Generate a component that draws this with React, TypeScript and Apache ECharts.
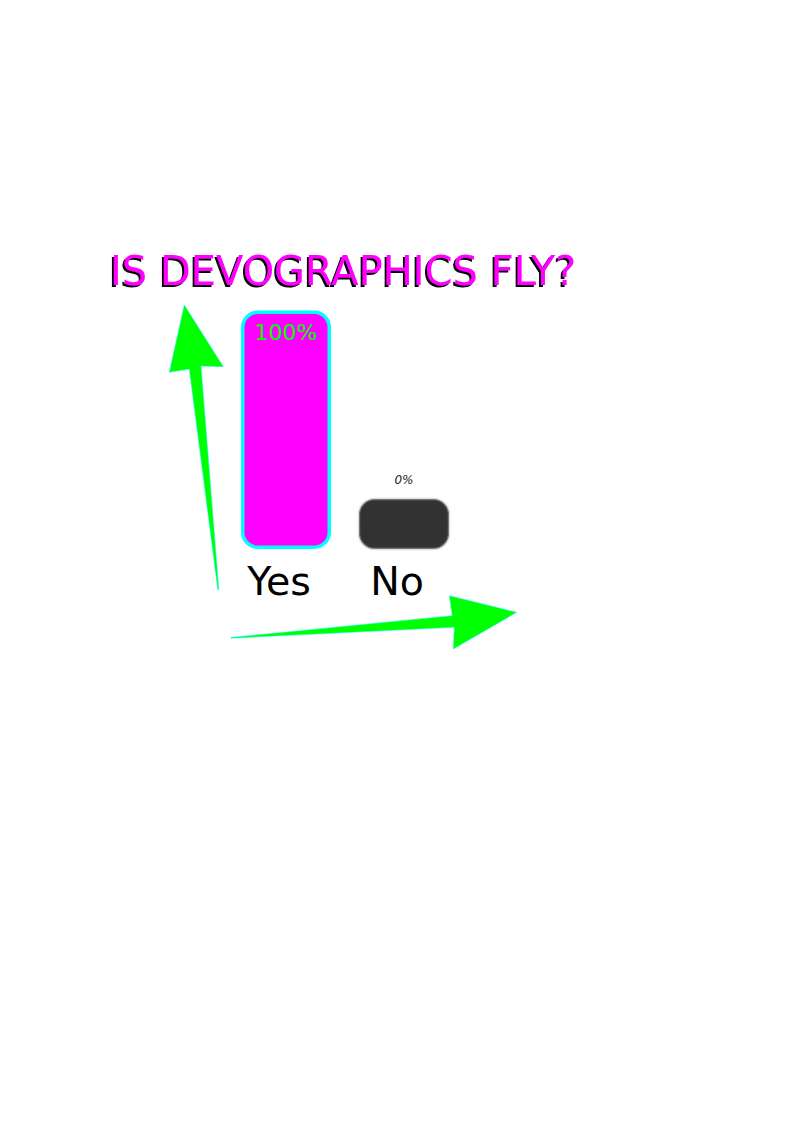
import React, { useEffect, useRef } from "react";
import * as echarts from "echarts";

const categories = ["Yes", "No"];
const values = [100, 0];
const valueLabels = ["100%", "0%"];
const titleText = "IS DEVOGRAPHICS FLY?";

const FONT = "DejaVu Sans";

export default function App() {
  const ref = useRef<HTMLDivElement>(null);

  useEffect(() => {
    if (!ref.current) return;
    const chart = echarts.init(ref.current, null, { renderer: "svg" });

    const barStyles = [
      {
        itemStyle: {
          color: "#ff00ff",
          borderColor: "#00ffff",
          borderWidth: 3.5,
          borderRadius: 15,
        },
        label: {
          show: true,
          position: "insideTop",
          distance: 11,
          color: "#00ff00",
          fontSize: 22,
          fontFamily: FONT,
        },
      },
      {
        itemStyle: {
          color: "#333333",
          borderColor: "#777777",
          borderWidth: 1.2,
          borderRadius: 15,
          shadowBlur: 2,
          shadowColor: "rgba(0,0,0,0.4)",
        },
        label: {
          show: true,
          position: "top",
          distance: 13,
          color: "#222222",
          fontSize: 12,
          fontStyle: "italic",
          fontFamily: FONT,
        },
      },
    ];

    chart.setOption({
      animation: false,
      backgroundColor: "#ffffff",
      title: {
        text: titleText,
        left: 110,
        top: 251,
        padding: 0,
        textStyle: {
          fontFamily: FONT,
          fontSize: 40,
          fontWeight: "normal",
          color: "#ff00ff",
          textShadowColor: "#000000",
          textShadowOffsetX: -2,
          textShadowOffsetY: 2,
          textShadowBlur: 1,
        },
      },
      grid: {
        left: 227,
        top: 310.5,
        width: 236,
        height: 238.5,
        containLabel: false,
      },
      xAxis: {
        type: "category",
        data: categories,
        axisLine: { show: false },
        axisTick: { show: false },
        splitLine: { show: false },
        axisLabel: {
          fontFamily: FONT,
          fontSize: 39.5,
          color: "#000000",
          margin: 12,
          padding: [0, 14, 0, 0],
        },
      },
      yAxis: {
        type: "value",
        min: 0,
        max: 100,
        show: false,
      },
      series: [
        {
          type: "bar",
          barWidth: 90,
          barMinHeight: 50,
          data: values.map((v, i) => ({
            value: v,
            itemStyle: barStyles[i].itemStyle,
            label: { ...barStyles[i].label, formatter: () => valueLabels[i] },
          })),
        },
      ],
      graphic: [
        {
          type: "polygon",
          shape: {
            points: [
              [184.3, 305],
              [223.3, 366.7],
              [201, 366],
              [218.8, 589.5],
              [217.8, 589.5],
              [189.3, 369],
              [169.3, 372.3],
            ],
          },
          style: { fill: "#00ff00", stroke: "#00ffff", lineWidth: 0.5 },
        },
        {
          type: "polygon",
          shape: {
            points: [
              [516.7, 612.3],
              [453.3, 649],
              [454.3, 627.3],
              [231, 638.2],
              [231, 637.4],
              [452.3, 615.7],
              [449.3, 595.7],
            ],
          },
          style: { fill: "#00ff00", stroke: "#00ffff", lineWidth: 0.5 },
        },
      ],
    });

    return () => chart.dispose();
  }, []);

  return (
    <div
      ref={ref}
      style={{ position: "absolute", left: 0, top: 0, width: 794, height: 1123 }}
    />
  );
}
